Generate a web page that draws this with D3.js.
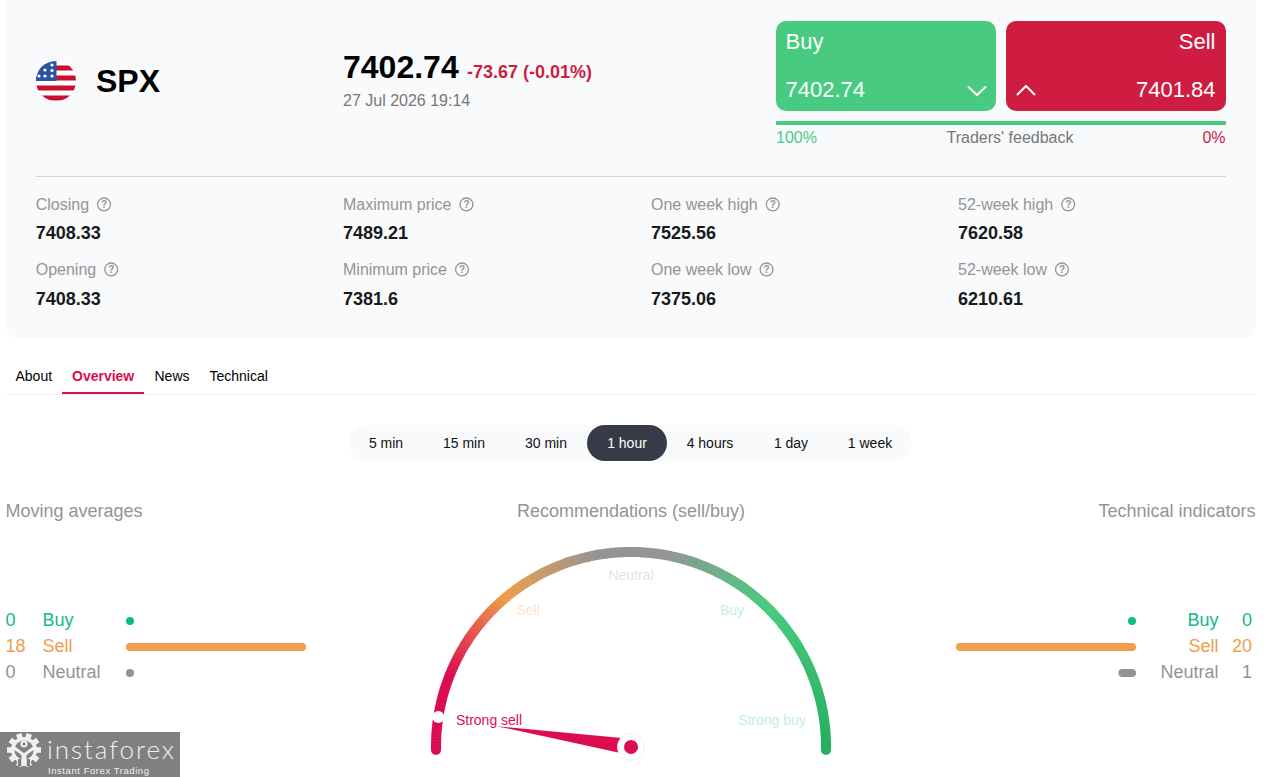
<!DOCTYPE html>
<html>
<head>
  <meta charset="utf-8">
  <title>SPX overview</title>
  <script src="https://d3js.org/d3.v7.min.js"></script>
  <style>
    html, body { margin: 0; padding: 0; background: #fff; overflow: hidden; }
    svg { display: block; }
    text { font-family: "Liberation Sans", Arial, sans-serif; }
  </style>
</head>
<body>
  <script>
    var statLabels = [['Closing', 'Opening'], ['Maximum price', 'Minimum price'], ['One week high', 'One week low'], ['52-week high', '52-week low']];
    var statValues = [['7408.33', '7408.33'], ['7489.21', '7381.6'], ['7525.56', '7375.06'], ['7620.58', '6210.61']];
    var tabs = ['About', 'Overview', 'News', 'Technical'];
    var periods = ['5 min', '15 min', '30 min', '1 hour', '4 hours', '1 day', '1 week'];
    var signalNames = ['Buy', 'Sell', 'Neutral'];
    var movingAverages = [0, 18, 0];
    var technicalIndicators = [0, 20, 1];
    var gaugeLabels = ['Strong sell', 'Sell', 'Neutral', 'Buy', 'Strong buy'];
    var gaugeValue = 4.9;      // 0 = strong sell, 100 = strong buy
    var buyShare = 100;

    var green = '#48cb80', red = '#cf1c41', pink = '#dc0d4f';
    var signalColors = ['#10b98a', '#ee9e4c', '#949494'];

    var svg = d3.select('body').append('svg').attr('width', 1264).attr('height', 777);
    var defs = svg.append('defs');

    function label(parent, x, y, str, size, color, anchor, weight) {
      return parent.append('text')
        .attr('x', x).attr('y', y)
        .attr('font-size', size)
        .attr('fill', color)
        .attr('text-anchor', anchor || 'start')
        .attr('font-weight', weight || 'normal')
        .text(str);
    }

    // header panel
    svg.append('path')
      .attr('d', 'M6,0H1256V326a12,12 0 0 1 -12,12H18a12,12 0 0 1 -12,-12Z')
      .attr('fill', '#f9fafc');

    // flag
    defs.append('clipPath').attr('id', 'flagClip')
      .append('circle').attr('cx', 56).attr('cy', 81).attr('r', 20);
    var flag = svg.append('g').attr('clip-path', 'url(#flagClip)');
    flag.append('rect').attr('x', 36).attr('y', 61).attr('width', 40).attr('height', 40).attr('fill', '#fff');
    d3.range(0, 4).forEach(function(i) {
      flag.append('rect').attr('x', 36).attr('y', 65.5 + i * 10).attr('width', 40).attr('height', 5).attr('fill', '#c8102e');
    });
    flag.append('rect').attr('x', 36).attr('y', 61).attr('width', 20.5).attr('height', 20).attr('fill', '#2a54a4');
    [[52, 65], [45, 70], [52, 70.5], [39, 76], [45, 76], [52, 76]].forEach(function(p) {
      flag.append('circle').attr('cx', p[0]).attr('cy', p[1]).attr('r', 1.6).attr('fill', '#fff');
    });

    label(svg, 96, 92, 'SPX', 32, '#000', 'start', 'bold');
    label(svg, 343, 78, '7402.74', 32, '#000', 'start', 'bold');
    label(svg, 467, 78, '-73.67 (-0.01%)', 18, red, 'start', 'bold');
    label(svg, 343, 106, '27 Jul 2026 19:14', 16, '#777', 'start');

    // buy / sell buttons
    svg.append('rect').attr('x', 776).attr('y', 21).attr('width', 220).attr('height', 90).attr('rx', 10).attr('fill', green);
    svg.append('rect').attr('x', 1006).attr('y', 21).attr('width', 220).attr('height', 90).attr('rx', 10).attr('fill', red);
    label(svg, 785.5, 49, 'Buy', 22, '#fff');
    label(svg, 785.5, 97, '7402.74', 22, '#fff');
    label(svg, 1215.5, 49, 'Sell', 22, '#fff', 'end');
    label(svg, 1215.5, 97, '7401.84', 22, '#fff', 'end');
    svg.append('path').attr('d', 'M968,86.5L977,95L986,86.5').attr('fill', 'none').attr('stroke', '#fff').attr('stroke-width', 2);
    svg.append('path').attr('d', 'M1017,95L1026,86L1035,95').attr('fill', 'none').attr('stroke', '#fff').attr('stroke-width', 2);

    // traders' feedback
    var feedbackX = d3.scaleLinear().domain([0, 100]).range([776, 1226]);
    svg.append('rect').attr('x', 776).attr('y', 121).attr('width', 450).attr('height', 4).attr('rx', 2).attr('fill', red);
    svg.append('rect').attr('x', 776).attr('y', 121).attr('width', feedbackX(buyShare) - 776).attr('height', 4).attr('rx', 2).attr('fill', green);
    label(svg, 776, 143, buyShare + '%', 16, green);
    label(svg, 1010, 143, "Traders' feedback", 16, '#777', 'middle');
    label(svg, 1225.5, 143, (100 - buyShare) + '%', 16, red, 'end');

    svg.append('line').attr('x1', 36).attr('x2', 1226).attr('y1', 176.5).attr('y2', 176.5).attr('stroke', '#d5d5d7');

    // stats
    var statX = [35.7, 343, 651, 958], labelY = [210, 275], valueY = [239, 305];
    statLabels.forEach(function(col, c) {
      col.forEach(function(name, r) {
        var t = label(svg, statX[c], labelY[r], name, 16, '#949494');
        var cx = statX[c] + t.node().getComputedTextLength() + 15;
        var icon = svg.append('g').attr('transform', 'translate(' + cx + ',' + (labelY[r] - 5.6) + ')');
        icon.append('circle').attr('r', 6.4).attr('fill', 'none').attr('stroke', '#949494').attr('stroke-width', 1.3);
        label(icon, 0, 3.5, '?', 10, '#949494', 'middle', 'bold');
        label(svg, statX[c], valueY[r], statValues[c][r], 18, '#1a1a1a', 'start', 'bold');
      });
    });

    // tabs
    var tabX = [15.5, 72, 154.5, 209.5];
    svg.append('line').attr('x1', 6).attr('x2', 1256).attr('y1', 394.5).attr('y2', 394.5).attr('stroke', '#ebf0f6');
    tabs.forEach(function(name, i) {
      var active = name === 'Overview';
      label(svg, tabX[i], 381, name, 14, active ? pink : '#000', 'start', active ? 'bold' : 'normal');
    });
    svg.append('rect').attr('x', 62).attr('y', 392).attr('width', 82).attr('height', 2).attr('fill', pink);

    // period switch
    var periodX = [386, 464, 546, 627, 710, 791, 870];
    svg.append('rect').attr('x', 349).attr('y', 425).attr('width', 563).attr('height', 36).attr('rx', 18).attr('fill', '#f9fafc');
    svg.append('rect').attr('x', 587).attr('y', 425).attr('width', 80).attr('height', 36).attr('rx', 18).attr('fill', '#363b47');
    periods.forEach(function(name, i) {
      label(svg, periodX[i], 448, name, 14, name === '1 hour' ? '#fff' : '#111', 'middle');
    });

    // section headings
    label(svg, 5.5, 517, 'Moving averages', 18, '#949494');
    label(svg, 631, 517, 'Recommendations (sell/buy)', 18, '#949494', 'middle');
    label(svg, 1255.5, 517, 'Technical indicators', 18, '#949494', 'end');

    // signal bars
    var barWidth = d3.scaleLinear().domain([0, 20]).range([9, 180]);
    var barWidthLeft = d3.scaleLinear().domain([0, 18]).range([8, 180]);
    var rowY = [620, 646, 672];
    signalNames.forEach(function(name, i) {
      var c = signalColors[i];
      label(svg, 5.5, rowY[i] + 6, movingAverages[i], 18, c);
      label(svg, 42.5, rowY[i] + 6, name, 18, c);
      svg.append('rect').attr('x', 126).attr('y', rowY[i] - 3)
        .attr('width', barWidthLeft(movingAverages[i])).attr('height', 8).attr('rx', 4).attr('fill', c);

      var w = technicalIndicators[i] ? barWidth(technicalIndicators[i]) : 8;
      svg.append('rect').attr('x', 1136 - w).attr('y', rowY[i] - 3)
        .attr('width', w).attr('height', 8).attr('rx', 4).attr('fill', c);
      label(svg, 1218.5, rowY[i] + 6, name, 18, c, 'end');
      label(svg, 1252, rowY[i] + 6, technicalIndicators[i], 18, c, 'end');
    });

    // gauge
    var cx = 631, cy = 747, radius = 195;
    var gauge = svg.append('g').attr('transform', 'translate(' + cx + ',' + cy + ')');
    var angle = d3.scaleLinear().domain([0, 100]).range([-Math.PI / 2, Math.PI / 2]);
    var gaugeColor = d3.scaleLinear()
      .domain([0, 12, 28, 45, 55, 75, 100])
      .range([pink, pink, '#ee9e4c', '#949494', '#949494', '#48cb80', '#27ae60'])
      .interpolate(d3.interpolateRgb);
    var arc = d3.arc().innerRadius(radius - 5).outerRadius(radius + 5);

    // round ends below the horizontal
    gauge.append('path').attr('d', 'M' + (-radius) + ',0V3').attr('stroke', pink).attr('stroke-width', 10).attr('stroke-linecap', 'round');
    gauge.append('path').attr('d', 'M' + radius + ',0V3').attr('stroke', '#27ae60').attr('stroke-width', 10).attr('stroke-linecap', 'round');
    d3.range(0, 100, 0.5).forEach(function(v) {
      gauge.append('path')
        .attr('d', arc({ startAngle: angle(v), endAngle: angle(v + 0.6) }))
        .attr('fill', gaugeColor(v + 0.25));
    });

    var labelPos = [[-142, -22], [-103, -132], [0, -167], [101, -132], [141, -22]];
    var labelColors = [pink, '#fbe3cb', '#e4e4e4', '#c3eee0', '#c3eee0'];
    gaugeLabels.forEach(function(name, i) {
      label(gauge, labelPos[i][0], labelPos[i][1], name, 14, labelColors[i], 'middle');
    });

    // needle
    var a = angle(gaugeValue);
    var tipR = 136, baseW = 8;
    var tip = [tipR * Math.sin(a), -tipR * Math.cos(a)];
    var perp = [Math.cos(a) * baseW, Math.sin(a) * baseW];
    gauge.append('path')
      .attr('d', 'M' + tip + 'L' + perp + 'L' + [-perp[0], -perp[1]] + 'Z')
      .attr('fill', pink);
    gauge.append('circle').attr('r', 13.5).attr('fill', '#fff').attr('stroke', '#f0f0f2');
    gauge.append('circle').attr('r', 7).attr('fill', pink);
    gauge.append('circle')
      .attr('cx', radius * Math.sin(a)).attr('cy', -radius * Math.cos(a))
      .attr('r', 6).attr('fill', '#fff');

    // watermark
    var mark = svg.append('g');
    var markGrey = '#808080', markInk = '#f0f0f0';
    mark.append('rect').attr('x', 0).attr('y', 732).attr('width', 180).attr('height', 45).attr('fill', markGrey);
    var gear = mark.append('g').attr('transform', 'translate(24,750)');
    d3.range(0, 10).forEach(function(i) {
      gear.append('rect').attr('x', -2.8).attr('y', -17).attr('width', 5.6).attr('height', 6)
        .attr('transform', 'rotate(' + (i * 36 + 18) + ')').attr('fill', markInk);
    });
    gear.append('circle').attr('r', 13).attr('fill', markInk);
    gear.append('circle').attr('r', 9.5).attr('fill', markGrey);
    gear.append('path').attr('d', 'M-6,9L-6,16H-2.5V9ZM6,9L6,16H2.5V9Z').attr('fill', markGrey);
    gear.append('path').attr('d', 'M-11,-3L0,5M11,-3L0,5').attr('fill', 'none').attr('stroke', markInk).attr('stroke-width', 3);
    gear.append('rect').attr('x', -2.5).attr('y', 3).attr('width', 5).attr('height', 13).attr('fill', markInk);
    gear.append('circle').attr('cy', -6).attr('r', 3.6).attr('fill', markInk);
    gear.append('circle').attr('cy', -6).attr('r', 1.5).attr('fill', markGrey);
    label(mark, 47, 759, 'instaforex', 26, markInk).style('font-family', 'Lato, sans-serif').attr('font-weight', 300).attr('textLength', 127);
    label(mark, 48, 774, 'Instant Forex Trading', 9.5, markInk).attr('textLength', 101);
  </script>
</body>
</html>
